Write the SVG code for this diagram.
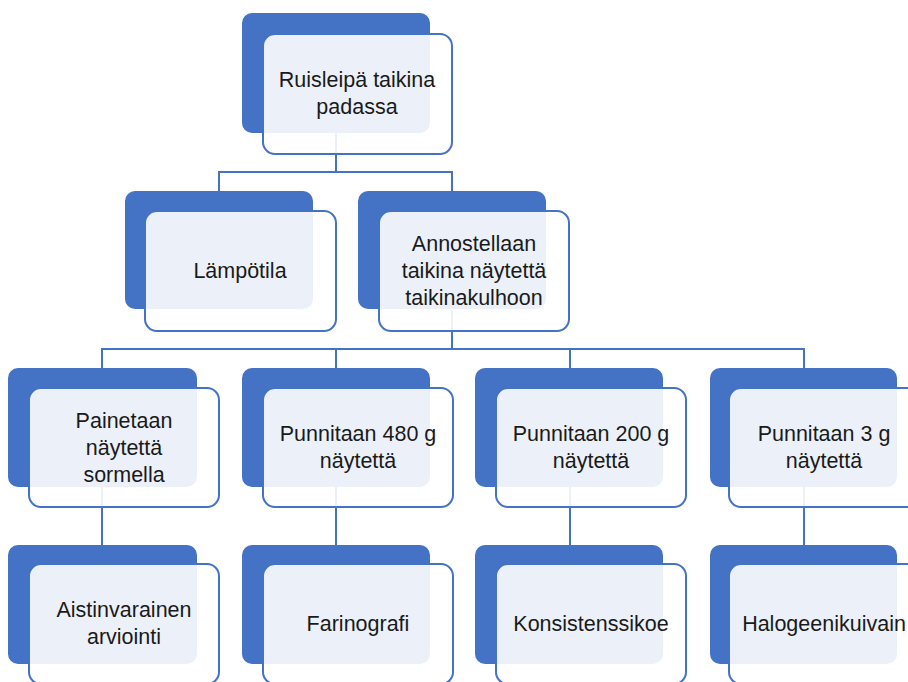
<svg xmlns="http://www.w3.org/2000/svg" width="908" height="682" viewBox="0 0 908 682">
<style>
.back{fill:#4472C4}
.front{fill:#ffffff;fill-opacity:0.9;stroke:#4472C4;stroke-width:2}
.conn{fill:none;stroke:#4472C4;stroke-width:2}
text{font-family:"Liberation Sans",Arial,sans-serif;font-size:21.5px;fill:#1a1a1a;text-anchor:middle}
</style>
<rect width="908" height="682" fill="#ffffff"/>
<g id="connectors">
<path class="conn" d="M336,133V172M219,191V172H452V191"/>
<path class="conn" d="M452,310V349M102,368V349H804V368M336,349V368M570,349V368"/>
<path class="conn" d="M102,487V545M336,487V545M570,487V545M804,487V545"/>
</g>
<g id="n1">
<rect class="back" x="242" y="13" width="188" height="120" rx="10"/>
<rect class="front" x="263" y="34" width="189" height="120" rx="12"/>
<text x="357" y="87">Ruisleipä taikina</text>
<text x="357" y="114">padassa</text>
</g>
<g id="n2">
<rect class="back" x="125" y="191" width="188" height="118" rx="10"/>
<rect class="front" x="145" y="211" width="191" height="120" rx="12"/>
<text x="240" y="278">Lämpötila</text>
</g>
<g id="n3">
<rect class="back" x="358" y="191" width="188" height="118" rx="10"/>
<rect class="front" x="379" y="211" width="190" height="120" rx="12"/>
<text x="474" y="251">Annostellaan</text>
<text x="474" y="278">taikina näytettä</text>
<text x="474" y="305">taikinakulhoon</text>
</g>
<g id="n4">
<rect class="back" x="8" y="368" width="189" height="119" rx="10"/>
<rect class="front" x="29" y="388" width="190" height="119" rx="12"/>
<text x="124" y="428">Painetaan</text>
<text x="124" y="455">näytettä</text>
<text x="124" y="482">sormella</text>
</g>
<g id="n5">
<rect class="back" x="242" y="368" width="188" height="119" rx="10"/>
<rect class="front" x="263" y="388" width="190" height="119" rx="12"/>
<text x="358" y="441">Punnitaan 480 g</text>
<text x="358" y="468">näytettä</text>
</g>
<g id="n6">
<rect class="back" x="475" y="368" width="188" height="119" rx="10"/>
<rect class="front" x="496" y="388" width="190" height="119" rx="12"/>
<text x="591" y="441">Punnitaan 200 g</text>
<text x="591" y="468">näytettä</text>
</g>
<g id="n7">
<rect class="back" x="710" y="368" width="187" height="119" rx="10"/>
<rect class="front" x="729" y="388" width="190" height="119" rx="12"/>
<text x="824" y="441">Punnitaan 3 g</text>
<text x="824" y="468">näytettä</text>
</g>
<g id="n8">
<rect class="back" x="8" y="545" width="189" height="119" rx="10"/>
<rect class="front" x="29" y="564" width="190" height="120" rx="12"/>
<text x="124" y="617">Aistinvarainen</text>
<text x="124" y="644">arviointi</text>
</g>
<g id="n9">
<rect class="back" x="242" y="545" width="188" height="119" rx="10"/>
<rect class="front" x="263" y="564" width="190" height="120" rx="12"/>
<text x="358" y="631">Farinografi</text>
</g>
<g id="n10">
<rect class="back" x="475" y="545" width="188" height="119" rx="10"/>
<rect class="front" x="496" y="564" width="190" height="120" rx="12"/>
<text x="591" y="631">Konsistenssikoe</text>
</g>
<g id="n11">
<rect class="back" x="710" y="545" width="187" height="119" rx="10"/>
<rect class="front" x="729" y="564" width="190" height="120" rx="12"/>
<text x="824" y="631">Halogeenikuivain</text>
</g>
</svg>
